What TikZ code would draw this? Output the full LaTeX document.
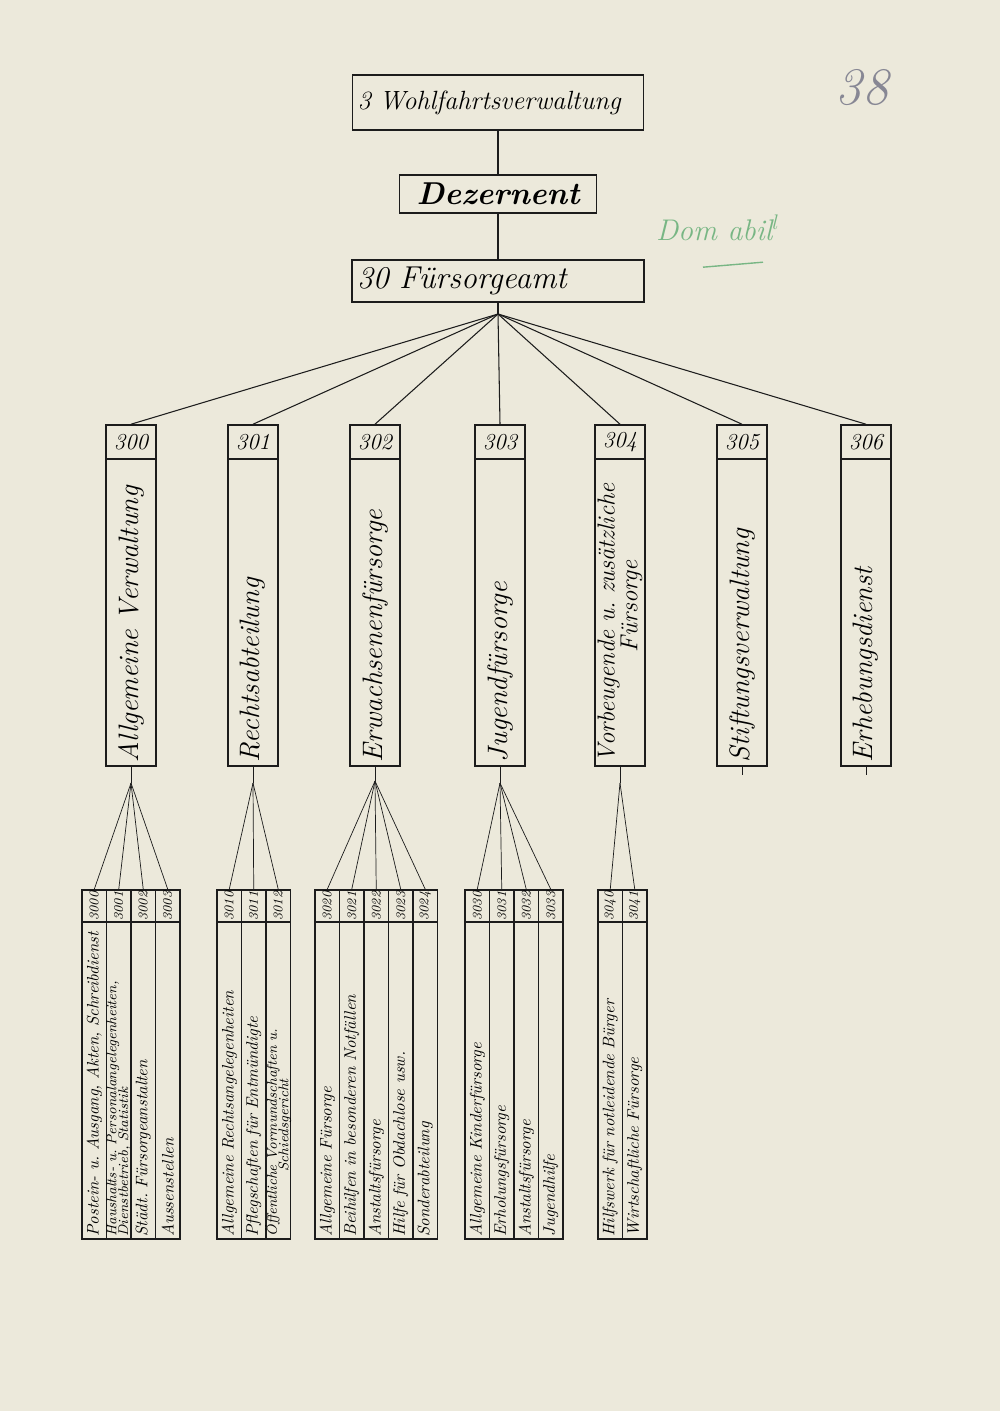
\documentclass[tikz,border=0pt]{standalone}
\usepackage{tikz}
\usepackage{color}

\definecolor{paper}{RGB}{236,233,219}
\definecolor{ink}{RGB}{28,28,28}
\definecolor{pencil}{RGB}{135,135,148}
\definecolor{greenpencil}{RGB}{120,182,132}
\newcommand{\squeezelines}{\setlength{\lineskiplimit}{-20pt}}

\begin{document}
\frenchspacing
\begin{tikzpicture}[%
      x=0.2mm, y=-0.2mm,
      box/.style={draw=ink, line width=0.9pt, inner xsep=1mm, inner ysep=0pt, align=left},
      numcell/.style={draw=ink, line width=0.9pt, minimum width=10mm, minimum height=6.8mm, inner sep=0pt, font=\fontsize{13}{13}\selectfont\itshape},
      bodycell/.style={draw=ink, line width=0.9pt, rotate=90, minimum width=61.4mm, minimum height=10mm, inner xsep=0.8mm, inner ysep=0pt, text width=59.8mm, align=left, font=\fontsize{16}{13}\selectfont\itshape\squeezelines},
      headcell/.style={draw=ink, line width=0.8pt, rotate=90, minimum width=6.4mm, minimum height=4.9mm, inner sep=0pt, font=\fontsize{7.5}{7.5}\selectfont\itshape},
      subcell/.style={draw=ink, line width=0.8pt, rotate=90, minimum width=63.4mm, minimum height=4.9mm, inner xsep=0.5mm, inner ysep=0pt, text width=62.4mm, align=left, font=\fontsize{9.5}{7}\selectfont\itshape},
      subcelltwo/.style={subcell, inner ysep=-1.2pt, font=\fontsize{8}{6.6}\selectfont\itshape\squeezelines},
      branch/.style={draw=ink, line width=0.6pt},
      twig/.style={draw=ink, line width=0.4pt},
      ]
      \fill[paper] (0,0) rectangle (1000,1411);

      \node[box, text width=56.2mm, minimum height=11mm, font=\fontsize{15}{15}\selectfont\itshape] (wohl) at (498,102.5) {3 Wohlfahrtsverwaltung};
      \node[box, text width=37.4mm, minimum height=7.6mm, align=center, font=\fontsize{18}{18}\selectfont\bfseries\itshape] (dez) at (498,194) {Dezernent};
      \node[box, text width=56.4mm, minimum height=8.4mm, font=\fontsize{18}{18}\selectfont\itshape] (amt) at (498,281) {30 Fürsorgeamt};
      \draw[branch] (wohl) -- (dez);
      \draw[branch] (dez) -- (amt);
      \coordinate (hub) at (498,314);
      \draw[branch] (amt) -- (hub);

      \node[numcell] (n300) at (131,442) {300};
      \node[numcell] (n301) at (253,442) {301};
      \node[numcell] (n302) at (375,442) {302};
      \node[numcell] (n303) at (500,442) {303};
      \node[numcell] (n304) at (620,442) {304};
      \node[numcell] (n305) at (742,442) {305};
      \node[numcell] (n306) at (866,442) {306};

      \node[bodycell] (b300) at (131,612.5) {Allgemeine Verwaltung};
      \node[bodycell] (b301) at (253,612.5) {Rechtsabteilung};
      \node[bodycell] (b302) at (375,612.5) {Erwachsenenfürsorge};
      \node[bodycell] (b303) at (500,612.5) {Jugendfürsorge};
      \node[bodycell, font=\fontsize{14}{13}\selectfont\itshape\squeezelines] (b304) at (620,612.5) {Vorbeugende u. zusätzliche\\ \hspace*{22mm}Fürsorge};
      \node[bodycell] (b305) at (742,612.5) {Stiftungsverwaltung};
      \node[bodycell] (b306) at (866,612.5) {Erhebungsdienst};

      \draw[branch] (hub) -- (n300.north);
      \draw[branch] (hub) -- (n301.north);
      \draw[branch] (hub) -- (n302.north);
      \draw[branch] (hub) -- (n303.north);
      \draw[branch] (hub) -- (n304.north);
      \draw[branch] (hub) -- (n305.north);
      \draw[branch] (hub) -- (n306.north);

      \node[headcell] (h3000) at (94.25,906) {3000};
      \node[headcell] (h3001) at (118.75,906) {3001};
      \node[headcell] (h3002) at (143.25,906) {3002};
      \node[headcell] (h3003) at (167.75,906) {3003};
      \node[subcell] (s3000) at (94.25,1080.5) {Postein- u. Ausgang, Akten, Schreibdienst};
      \node[subcelltwo] (s3001) at (118.75,1080.5) {Haushalts- u. Personalangelegenheiten,\\ Dienstbetrieb, Statistik};
      \node[subcell] (s3002) at (143.25,1080.5) {Städt. Fürsorgeanstalten};
      \node[subcell] (s3003) at (167.75,1080.5) {Aussenstellen};

      \node[headcell] (h3010) at (229.25,906) {3010};
      \node[headcell] (h3011) at (253.75,906) {3011};
      \node[headcell] (h3012) at (278.25,906) {3012};
      \node[subcell] (s3010) at (229.25,1080.5) {Allgemeine Rechtsangelegenheiten};
      \node[subcell] (s3011) at (253.75,1080.5) {Pflegschaften für Entmündigte};
      \node[subcelltwo] (s3012) at (278.25,1080.5) {Öffentliche Vormundschaften u.\\ \hspace*{13mm}Schiedsgericht};

      \node[headcell] (h3020) at (327.25,906) {3020};
      \node[headcell] (h3021) at (351.75,906) {3021};
      \node[headcell] (h3022) at (376.25,906) {3022};
      \node[headcell] (h3023) at (400.75,906) {3023};
      \node[headcell] (h3024) at (425.25,906) {3024};
      \node[subcell] (s3020) at (327.25,1080.5) {Allgemeine Fürsorge};
      \node[subcell] (s3021) at (351.75,1080.5) {Beihilfen in besonderen Notfällen};
      \node[subcell] (s3022) at (376.25,1080.5) {Anstaltsfürsorge};
      \node[subcell] (s3023) at (400.75,1080.5) {Hilfe für Obdachlose usw.};
      \node[subcell] (s3024) at (425.25,1080.5) {Sonderabteilung};

      \node[headcell] (h3030) at (477.25,906) {3030};
      \node[headcell] (h3031) at (501.75,906) {3031};
      \node[headcell] (h3032) at (526.25,906) {3032};
      \node[headcell] (h3033) at (550.75,906) {3033};
      \node[subcell] (s3030) at (477.25,1080.5) {Allgemeine Kinderfürsorge};
      \node[subcell] (s3031) at (501.75,1080.5) {Erholungsfürsorge};
      \node[subcell] (s3032) at (526.25,1080.5) {Anstaltsfürsorge};
      \node[subcell] (s3033) at (550.75,1080.5) {Jugendhilfe};

      \node[headcell] (h3040) at (610.25,906) {3040};
      \node[headcell] (h3041) at (634.75,906) {3041};
      \node[subcell] (s3040) at (610.25,1080.5) {Hilfswerk für notleidende Bürger};
      \node[subcell] (s3041) at (634.75,1080.5) {Wirtschaftliche Fürsorge};

      \coordinate (k300) at (131,783);
      \coordinate (k301) at (253,783);
      \coordinate (k302) at (375,781);
      \coordinate (k303) at (500,783);
      \coordinate (k304) at (620,783);
      \coordinate (k305) at (742,775);
      \coordinate (k306) at (866,775);
      \draw[twig] (b300.west) -- (k300);
      \draw[twig] (b301.west) -- (k301);
      \draw[twig] (b302.west) -- (k302);
      \draw[twig] (b303.west) -- (k303);
      \draw[twig] (b304.west) -- (k304);
      \draw[twig] (b305.west) -- (k305);
      \draw[twig] (b306.west) -- (k306);

      \draw[twig] (k300) -- (h3000.east);
      \draw[twig] (k300) -- (h3001.east);
      \draw[twig] (k300) -- (h3002.east);
      \draw[twig] (k300) -- (h3003.east);
      \draw[twig] (k301) -- (h3010.east);
      \draw[twig] (k301) -- (h3011.east);
      \draw[twig] (k301) -- (h3012.east);
      \draw[twig] (k302) -- (h3020.east);
      \draw[twig] (k302) -- (h3021.east);
      \draw[twig] (k302) -- (h3022.east);
      \draw[twig] (k302) -- (h3023.east);
      \draw[twig] (k302) -- (h3024.east);
      \draw[twig] (k303) -- (h3030.east);
      \draw[twig] (k303) -- (h3031.east);
      \draw[twig] (k303) -- (h3032.east);
      \draw[twig] (k303) -- (h3033.east);
      \draw[twig] (k304) -- (h3040.east);
      \draw[twig] (k304) -- (h3041.east);

      \node[text=pencil, font=\fontsize{30}{30}\selectfont\itshape] (folio) at (862,88) {38};
      \node[text=greenpencil, font=\fontsize{17}{17}\selectfont\itshape] (note) at (718,228) {Dom abil$^{l}$};
      \draw[greenpencil, line width=0.8pt] ([xshift=-3mm,yshift=-4mm]note.south) -- ([xshift=9mm,yshift=-3mm]note.south);
      \end{tikzpicture}
\end{document}
